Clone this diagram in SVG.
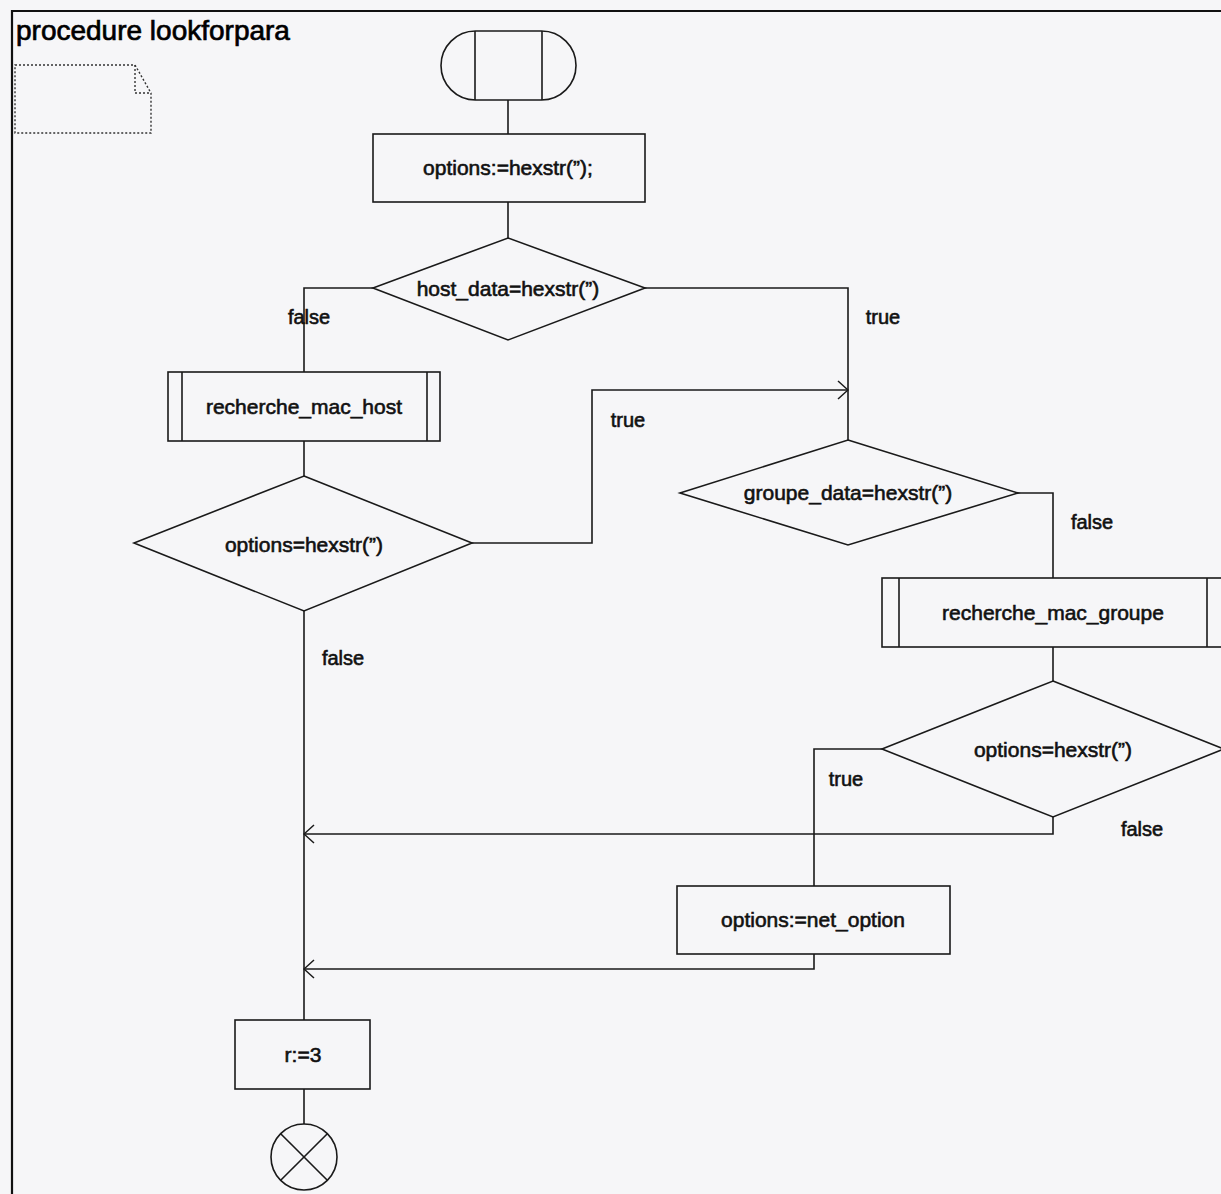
<svg xmlns="http://www.w3.org/2000/svg" width="1221" height="1194" viewBox="0 0 1221 1194">
  <style>
    .shape { fill: none; stroke: #1a1a1a; stroke-width: 1.6; }
    .frame { fill: none; stroke: #111; stroke-width: 2.2; }
    .note { fill: none; stroke: #333; stroke-width: 1.4; stroke-dasharray: 2 2; }
    .wire { fill: none; stroke: #1a1a1a; stroke-width: 1.6; }
    .txt { font-family: "Liberation Sans", Arial, sans-serif; font-size: 21px; fill: #111; stroke: #111; stroke-width: 0.6; text-anchor: middle; }
    .lbl { font-family: "Liberation Sans", Arial, sans-serif; font-size: 20px; fill: #111; stroke: #111; stroke-width: 0.6; text-anchor: middle; }
    .title { font-family: "Liberation Sans", Arial, sans-serif; font-size: 28px; fill: #000; stroke: #000; stroke-width: 0.7; }
  </style>
  <defs>
    <marker id="open-arrow" viewBox="0 0 12 20" refX="11" refY="10" markerWidth="12" markerHeight="20" markerUnits="userSpaceOnUse" orient="auto">
      <path d="M1,1 L11,10 L1,19" fill="none" stroke="#1a1a1a" stroke-width="1.5"/>
    </marker>
  </defs>

  <rect x="0" y="0" width="1221" height="1194" fill="#f6f6f8"/>

  <!-- procedure frame and title -->
  <g id="frame">
    <path class="frame" d="M12,1194 L12,11 L1221,11"/>
    <text class="title" x="16" y="40">procedure lookforpara</text>
  </g>

  <!-- comment note (empty) -->
  <g id="note">
    <path class="note" d="M15,65 L135,65 L151,93 L151,133 L15,133 Z"/>
    <path class="note" d="M135,65 L135,93 L151,93"/>
  </g>

  <!-- connectors -->
  <g id="connectors">
    <line class="wire" x1="508" y1="100" x2="508" y2="134"/>
    <line class="wire" x1="508" y1="202" x2="508" y2="238"/>
    <!-- host_data: false branch -->
    <path class="wire" d="M373,288 L304,288 L304,372"/>
    <!-- host_data: true branch -->
    <path class="wire" d="M645,288 L848,288 L848,440"/>
    <line class="wire" x1="304" y1="441" x2="304" y2="476"/>
    <!-- options (left): true branch joins -->
    <path class="wire" d="M472,543 L592,543 L592,390 L848,390" marker-end="url(#open-arrow)"/>
    <!-- options (left): false branch, main trunk -->
    <line class="wire" x1="304" y1="611" x2="304" y2="1020"/>
    <!-- groupe_data: false branch -->
    <path class="wire" d="M1018,493 L1053,493 L1053,578"/>
    <line class="wire" x1="1053" y1="647" x2="1053" y2="681"/>
    <!-- options (right): true branch -->
    <path class="wire" d="M882,749 L814,749 L814,886"/>
    <!-- options (right): false branch back to trunk -->
    <path class="wire" d="M1053,817 L1053,834 L304,834" marker-end="url(#open-arrow)"/>
    <!-- net_option back to trunk -->
    <path class="wire" d="M814,954 L814,969 L304,969" marker-end="url(#open-arrow)"/>
    <line class="wire" x1="304" y1="1089" x2="304" y2="1124"/>
  </g>

  <!-- start -->
  <g id="start">
    <rect class="shape" x="441" y="31" width="135" height="69" rx="34.5" ry="34.5"/>
    <line class="shape" x1="475" y1="31" x2="475" y2="100"/>
    <line class="shape" x1="542" y1="31" x2="542" y2="100"/>
  </g>

  <g id="init-options">
    <rect class="shape" x="373" y="134" width="272" height="68"/>
    <text class="txt" x="508" y="175">options:=hexstr(”);</text>
  </g>

  <g id="test-host-data">
    <polygon class="shape" points="508,238 645,288 508,340 373,288"/>
    <text class="txt" x="508" y="296">host_data=hexstr(”)</text>
  </g>

  <g id="call-mac-host">
    <rect class="shape" x="168" y="372" width="272" height="69"/>
    <line class="shape" x1="182" y1="372" x2="182" y2="441"/>
    <line class="shape" x1="427" y1="372" x2="427" y2="441"/>
    <text class="txt" x="304" y="414">recherche_mac_host</text>
  </g>

  <g id="test-options-host">
    <polygon class="shape" points="304,476 472,543 304,611 134,543"/>
    <text class="txt" x="304" y="552">options=hexstr(”)</text>
  </g>

  <g id="test-groupe-data">
    <polygon class="shape" points="848,440 1018,493 848,545 680,493"/>
    <text class="txt" x="848" y="500">groupe_data=hexstr(”)</text>
  </g>

  <g id="call-mac-groupe">
    <rect class="shape" x="882" y="578" width="342" height="69"/>
    <line class="shape" x1="899" y1="578" x2="899" y2="647"/>
    <line class="shape" x1="1207" y1="578" x2="1207" y2="647"/>
    <text class="txt" x="1053" y="620">recherche_mac_groupe</text>
  </g>

  <g id="test-options-groupe">
    <polygon class="shape" points="1053,681 1224,749 1053,817 882,749"/>
    <text class="txt" x="1053" y="757">options=hexstr(”)</text>
  </g>

  <g id="set-net-option">
    <rect class="shape" x="677" y="886" width="273" height="68"/>
    <text class="txt" x="813" y="927">options:=net_option</text>
  </g>

  <g id="set-r">
    <rect class="shape" x="235" y="1020" width="135" height="69"/>
    <text class="txt" x="303" y="1062">r:=3</text>
  </g>

  <g id="end">
    <circle class="shape" cx="304" cy="1157" r="33"/>
    <line class="shape" x1="280.7" y1="1133.7" x2="327.3" y2="1180.3"/>
    <line class="shape" x1="327.3" y1="1133.7" x2="280.7" y2="1180.3"/>
  </g>

  <!-- branch labels -->
  <g id="labels">
    <text class="lbl" x="309" y="324">false</text>
    <text class="lbl" x="883" y="324">true</text>
    <text class="lbl" x="628" y="427">true</text>
    <text class="lbl" x="1092" y="529">false</text>
    <text class="lbl" x="343" y="665">false</text>
    <text class="lbl" x="846" y="786">true</text>
    <text class="lbl" x="1142" y="836">false</text>
  </g>
</svg>
